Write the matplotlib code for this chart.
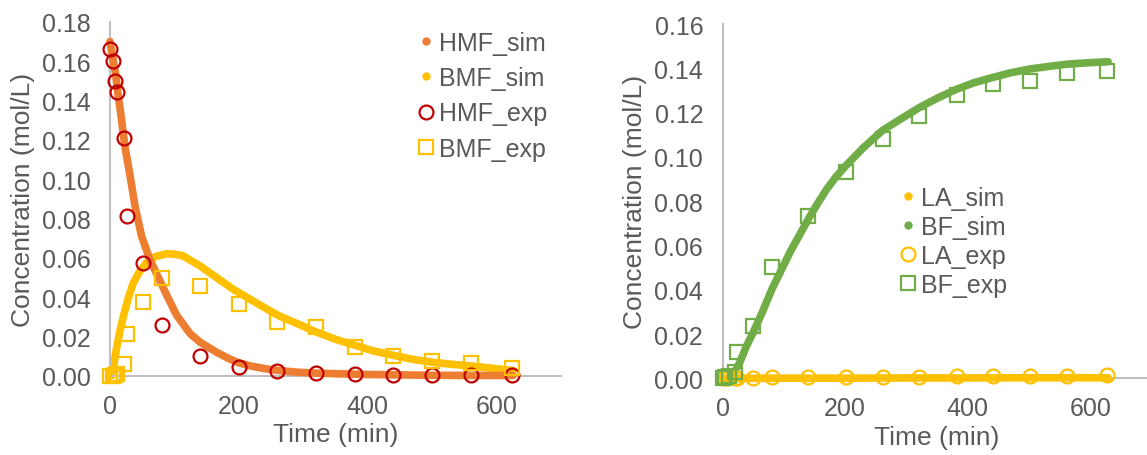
import matplotlib
matplotlib.use("Agg")
import matplotlib.pyplot as plt
from matplotlib.lines import Line2D

plt.rcParams['font.family'] = ['Liberation Sans', 'DejaVu Sans']

ORANGE = "#ED7D31"
GOLD = "#FFC000"
DARKRED = "#C00000"
GREEN = "#70AD47"
TXT = "#595959"
AXC = "#BFBFBF"

# ---- left panel: HMF / BMF ----
hmf_sim_t = [0, 3, 8, 13, 18, 23, 31, 39, 49, 62, 75, 88, 103, 114, 124, 140, 165, 185, 200, 220, 243, 268, 294,
             320, 350, 400, 450, 500, 560, 626]
hmf_sim_c = [0.170, 0.164, 0.155, 0.142, 0.130, 0.117, 0.102, 0.086, 0.071, 0.059, 0.050, 0.041, 0.031, 0.026,
             0.0215, 0.017, 0.012, 0.0086, 0.0065, 0.0048, 0.0034, 0.0024, 0.0017, 0.0013, 0.0010, 0.0006,
             0.0004, 0.0002, 0.0001, 0.0001]

bmf_sim_t = [3, 6, 10, 15, 21, 28, 36, 46, 57, 70, 88, 100, 113, 139, 165, 191, 217, 243, 262, 294, 322, 350, 382,
             410, 442, 470, 501, 530, 562, 595, 626]
bmf_sim_c = [0.0, 0.006, 0.0136, 0.022, 0.0305, 0.039, 0.047, 0.053, 0.0576, 0.0605, 0.062, 0.0618, 0.061, 0.056,
             0.050, 0.044, 0.039, 0.034, 0.0305, 0.026, 0.022, 0.0185, 0.0153, 0.0125, 0.0102, 0.0083, 0.0068,
             0.0058, 0.0049, 0.0037, 0.0026]

hmf_exp_t = [0, 5, 8, 11, 21, 26, 51, 80, 140, 200, 260, 320, 380, 440, 500, 560, 625]
hmf_exp_c = [0.166, 0.160, 0.1497, 0.1444, 0.1208, 0.081, 0.0571, 0.0259, 0.0102, 0.0046, 0.0025, 0.0014,
             0.0008, 0.0005, 0.0005, 0.0005, 0.0002]

bmf_exp_t = [0, 5, 8, 11, 21, 26, 51, 80, 140, 200, 260, 320, 380, 440, 500, 560, 625]
bmf_exp_c = [0.0, 0.0, 0.0005, 0.001, 0.0059, 0.0212, 0.0373, 0.0495, 0.0454, 0.0364, 0.0275, 0.0246, 0.0144,
             0.0098, 0.0073, 0.0063, 0.0037]

# ---- right panel: LA / BF ----
la_sim_t = [0, 100, 200, 300, 400, 500, 629]
la_sim_c = [0.0, 0.0001, 0.0001, 0.0002, 0.0002, 0.0003, 0.0003]

bf_sim_t = [12, 20, 28, 38, 50, 65, 80, 95, 110, 125, 140, 155, 170, 185, 201, 229, 261, 290, 321, 350, 382, 410,
            441, 470, 501, 530, 562, 595, 629]
bf_sim_c = [0.0, 0.003, 0.0072, 0.014, 0.0208, 0.030, 0.040, 0.0485, 0.057, 0.0645, 0.072, 0.079, 0.0855, 0.091,
            0.096, 0.104, 0.112, 0.117, 0.1223, 0.1265, 0.1306, 0.1335, 0.1359, 0.138, 0.1397, 0.1408, 0.1419,
            0.1425, 0.143]

la_exp_t = [0, 4, 8, 20, 24, 50, 80, 140, 201, 261, 321, 382, 441, 501, 562, 627]
la_exp_c = [0.0, 0.0, 0.0, 0.0, 0.0002, 0.0003, 0.0005, 0.0005, 0.0006, 0.0007, 0.0008, 0.0009, 0.001, 0.0011,
            0.0012, 0.0015]

bf_exp_t = [0, 4, 10, 20, 24, 50, 80, 140, 201, 261, 321, 382, 441, 501, 562, 627]
bf_exp_c = [0.0, 0.0005, 0.001, 0.003, 0.0117, 0.0235, 0.0501, 0.0734, 0.093, 0.108, 0.1186, 0.128, 0.133,
            0.1344, 0.138, 0.1386]


def style_axes(ax, ymax, ystep):
    ax.set_xlim(0, 700)
    ax.set_ylim(0, ymax)
    ax.set_xticks([0, 200, 400, 600])
    yt = [i * ystep for i in range(int(round(ymax / ystep)) + 1)]
    ax.set_yticks(yt)
    ax.set_yticklabels([f"{v:.2f}" for v in yt])
    for s in ["top", "right"]:
        ax.spines[s].set_visible(False)
    for s in ["left", "bottom"]:
        ax.spines[s].set_color(AXC)
        ax.spines[s].set_linewidth(1.5)
    ax.tick_params(length=0, labelsize=18, labelcolor=TXT)
    ax.tick_params(axis="y", pad=14)
    ax.tick_params(axis="x", pad=13)
    ax.set_xlabel("Time (min)", fontsize=19, color=TXT, labelpad=3)
    ax.set_ylabel("Concentration (mol/L)", fontsize=19, color=TXT, labelpad=5)


def sim_handle(color, label):
    return Line2D([], [], ls="none", marker="o", ms=5, color=color, label=label)


def exp_handle(marker, color, label):
    return Line2D([], [], ls="none", marker=marker, ms=10, mfc="none", mec=color, mew=1.6, label=label)


fig = plt.figure(figsize=(11.47, 4.56), dpi=100)
ax1 = fig.add_axes([0.0959, 0.174, 0.393, 0.776])
ax2 = fig.add_axes([0.630, 0.168, 0.374, 0.777])

# left
ax1.plot(bmf_sim_t, bmf_sim_c, color=GOLD, lw=5.5, solid_capstyle="round", zorder=2, clip_on=False)
ax1.plot(hmf_sim_t, hmf_sim_c, color=ORANGE, lw=5.5, solid_capstyle="round", zorder=3, clip_on=False)
ax1.plot(hmf_exp_t, hmf_exp_c, ls="none", marker="o", ms=10, mfc="none", mec=DARKRED, mew=1.6,
         zorder=4, clip_on=False)
ax1.plot(bmf_exp_t, bmf_exp_c, ls="none", marker="s", ms=10, mfc="none", mec=GOLD, mew=1.6,
         zorder=5, clip_on=False)
style_axes(ax1, 0.18, 0.02)
leg1 = ax1.legend(handles=[sim_handle(ORANGE, "HMF_sim"), sim_handle(GOLD, "BMF_sim"),
                           exp_handle("o", DARKRED, "HMF_exp"), exp_handle("s", GOLD, "BMF_exp")],
                  loc="upper left", bbox_to_anchor=(0.363, 0.93), bbox_transform=fig.transFigure,
                  frameon=False, fontsize=18, labelspacing=0.45, handlelength=0.8, handletextpad=0.1,
                  borderpad=0, borderaxespad=0)
for t in leg1.get_texts():
    t.set_color(TXT)

# right
ax2.plot(bf_sim_t, bf_sim_c, color=GREEN, lw=5.5, solid_capstyle="round", zorder=2, clip_on=False)
ax2.plot(la_sim_t, la_sim_c, color=GOLD, lw=5.5, solid_capstyle="round", zorder=3, clip_on=False)
ax2.plot(la_exp_t, la_exp_c, ls="none", marker="o", ms=10, mfc="none", mec=GOLD, mew=1.6,
         zorder=4, clip_on=False)
ax2.plot(bf_exp_t, bf_exp_c, ls="none", marker="s", ms=10, mfc="none", mec=GREEN, mew=1.6,
         zorder=5, clip_on=False)
style_axes(ax2, 0.16, 0.02)
leg2 = ax2.legend(handles=[sim_handle(GOLD, "LA_sim"), sim_handle(GREEN, "BF_sim"),
                           exp_handle("o", GOLD, "LA_exp"), exp_handle("s", GREEN, "BF_exp")],
                  loc="upper left", bbox_to_anchor=(0.783, 0.59), bbox_transform=fig.transFigure,
                  frameon=False, fontsize=18, labelspacing=0.2, handlelength=0.8, handletextpad=0.1,
                  borderpad=0, borderaxespad=0)
for t in leg2.get_texts():
    t.set_color(TXT)

fig.savefig("out.png", dpi=100)
